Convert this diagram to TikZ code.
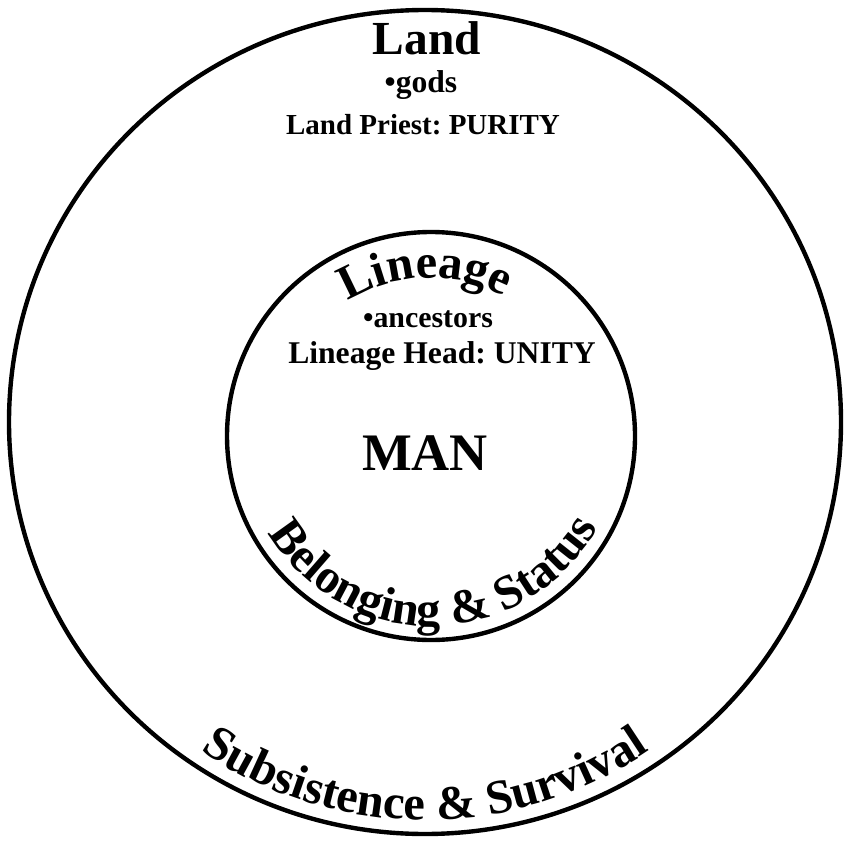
\documentclass[tikz,border=0pt]{standalone}
\usepackage{fontspec}
\setmainfont{Liberation Serif}
\usetikzlibrary{decorations.text}
\newcommand\ringfont{\bfseries\fontsize{27.5}{32}\selectfont}
\frenchspacing

\begin{document}
\begin{tikzpicture}[x=0.02cm, y=0.02cm,
    ring/.style={line width=2.5pt},
    title/.style={font=\bfseries\fontsize{27}{32}\selectfont, anchor=base},
    item/.style={font=\bfseries\fontsize{17}{20}\selectfont, anchor=base},
    arctext/.style={decorate, decoration={text along path, text align=center, text={|\ringfont|#1}}}]
  \useasboundingbox (0,0) rectangle (848,843);
  \coordinate (outer) at (425,421);
  \coordinate (inner) at (431,407);
  % the two rings
  \draw [ring] (outer) ellipse [x radius=416, y radius=412];
  \draw [ring] (inner) circle [radius=204];
  % outer ring
  \node [title] (land) at (427,788) {Land};
  \node [item, font=\bfseries\fontsize{18}{20}\selectfont] (gods) at (421,750) {•gods};
  \node [item, font=\bfseries\fontsize{16.5}{20}\selectfont] (priest) at (423,708) {Land Priest: PURITY};
  \path [arctext={Subsistence {\&} Survival}] ([shift={(215:398)}]outer) arc [start angle=215, end angle=325, radius=398];
  % inner ring
  \path [arctext=Lineage] ([shift={(140:158)}]inner) arc [start angle=140, end angle=44, radius=158];
  \node [item] (ancestors) at (428,516) {•ancestors};
  \node [item, font=\bfseries\fontsize{18}{20}\selectfont] (head) at (442,480) {Lineage Head: UNITY};
  \node [font=\bfseries\fontsize{30}{36}\selectfont, anchor=base] (man) at (425,373) {MAN};
  \path [arctext={Belonging {\&} Status}] ([shift={(195:190)}]inner) arc [start angle=195, end angle=347, radius=190];
\end{tikzpicture}
\end{document}
